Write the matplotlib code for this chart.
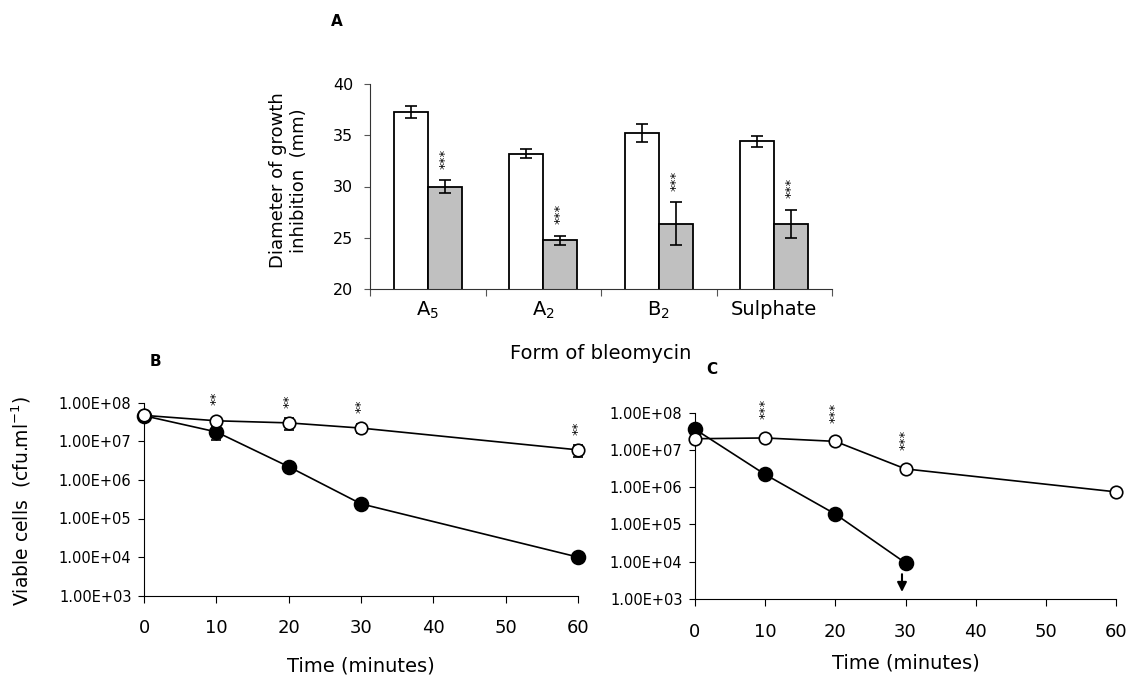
import numpy as np
import matplotlib
matplotlib.use("Agg")
import matplotlib.pyplot as plt

plt.rcParams['font.family'] = ['DejaVu Sans']

# ---- Panel A data ----
forms = ['A$_5$', 'A$_2$', 'B$_2$', 'Sulphate']
ctrl = [37.3, 33.2, 35.2, 34.4]
ctrl_err = [0.6, 0.45, 0.9, 0.5]
treat = [30.0, 24.75, 26.35, 26.35]
treat_err = [0.6, 0.45, 2.1, 1.4]
treat_sig = ['***', '***', '***', '***']

# ---- Panel B data ----
tB = [0, 10, 20, 30, 60]
B_open = [4.7e7, 3.4e7, 3.0e7, 2.2e7, 6.0e6]
B_open_err = [0.5e7, 0.3e7, 1.0e7, 0.6e7, 2.0e6]
B_fill = [4.6e7, 1.75e7, 2.2e6, 2.4e5, 1.0e4]
B_fill_err = [0.5e7, 0.7e7, 0.2e6, 0.3e5, 0.1e4]
B_sig = ['', '**', '**', '**', '**']

# ---- Panel C data ----
tC_open = [0, 10, 20, 30, 60]
C_open = [2.0e7, 2.1e7, 1.7e7, 3.1e6, 7.5e5]
C_open_err = [0.4e7, 0.1e7, 0.3e7, 0.3e6, 1.5e5]
tC_fill = [0, 10, 20, 30]
C_fill = [3.6e7, 2.2e6, 1.9e5, 9.3e3]
C_fill_err = [0.8e7, 0.3e6, 0.3e5, 1.2e3]
C_sig = ['', '***', '***', '***', '']

W, H = 1135, 677
fig = plt.figure(figsize=(W / 100, H / 100), dpi=100)


def frac(l, t, r, b):
    return [l / W, 1 - b / H, (r - l) / W, (b - t) / H]


# ================= Panel A =================
axA = fig.add_axes(frac(370, 84, 832, 289))
x = np.arange(len(forms))
bw = 0.294
axA.bar(x - bw / 2, ctrl, bw, color='white', edgecolor='black', linewidth=1.3,
        yerr=ctrl_err, error_kw=dict(ecolor='black', elinewidth=1.2, capsize=4, capthick=1.2))
axA.bar(x + bw / 2, treat, bw, color='#c0c0c0', edgecolor='black', linewidth=1.3,
        yerr=treat_err, error_kw=dict(ecolor='black', elinewidth=1.2, capsize=4, capthick=1.2))
for xi, v, e, s in zip(x, treat, treat_err, treat_sig):
    axA.text(xi + bw / 2, v + e + 1.1, s, rotation=90, ha='center', va='bottom', fontsize=9.5)
axA.set_ylim(20, 40)
axA.set_xlim(-0.5, len(forms) - 0.5)
axA.set_yticks([20, 25, 30, 35, 40])
axA.set_xticks(np.arange(len(forms) + 1) - 0.5)
axA.set_xticklabels([])
axA.set_xticks(x, minor=True)
axA.set_xticklabels(forms, minor=True, fontsize=14)
axA.tick_params(axis='x', which='minor', length=0, pad=8)
axA.tick_params(axis='x', which='major', length=5, direction='out', color='#555555')
axA.tick_params(axis='y', labelsize=11.5, length=4, direction='out', pad=8, color='#555555')
for sp in ['top', 'right']:
    axA.spines[sp].set_visible(False)
for sp in ['left', 'bottom']:
    axA.spines[sp].set_color('#333333')
axA.set_ylabel('Diameter of growth\ninhibition  (mm)', fontsize=13)
axA.yaxis.set_label_coords(-0.135, 0.53)
axA.set_xlabel('Form of bleomycin', fontsize=14, labelpad=16)


def style_log(ax, pad):
    ax.set_yscale('log')
    ax.set_ylim(1e3, 1e8)
    ax.set_xlim(0, 60)
    ax.set_xticks([0, 10, 20, 30, 40, 50, 60])
    ax.set_yticks([1e3, 1e4, 1e5, 1e6, 1e7, 1e8])
    ax.set_yticklabels(['1.00E+03', '1.00E+04', '1.00E+05', '1.00E+06', '1.00E+07', '1.00E+08'])
    ax.minorticks_off()
    ax.tick_params(axis='y', labelsize=10.5, length=4, direction='out', pad=5)
    ax.tick_params(axis='x', labelsize=13, length=5, direction='out', pad=12)
    for sp in ['top', 'right']:
        ax.spines[sp].set_visible(False)
    ax.set_xlabel('Time (minutes)', fontsize=14, labelpad=pad)


def draw_series(ax, t, y, e, filled):
    ax.errorbar(t, y, yerr=e, color='black', lw=1.2, elinewidth=1.0, capsize=3.5,
                marker='o', ms=10 if filled else 9,
                mfc='black' if filled else 'white', mec='black', mew=1.2,
                clip_on=False, zorder=3)


# ================= Panel B =================
axB = fig.add_axes(frac(144, 402.7, 578, 595.7))
style_log(axB, 14)
draw_series(axB, tB, B_fill, B_fill_err, True)
draw_series(axB, tB, B_open, B_open_err, False)
for ti, v, s in zip(tB, B_open, B_sig):
    if s:
        axB.text(ti, v * 2.5, s, rotation=90, ha='center', va='bottom', fontsize=9.5)
axB.set_ylabel('Viable cells  (cfu.ml$^{-1}$)', fontsize=13.5)
axB.yaxis.set_label_coords(-0.256, 0.49)

# ================= Panel C =================
axC = fig.add_axes(frac(695, 412.7, 1116, 599))
style_log(axC, 9)
draw_series(axC, tC_fill, C_fill, C_fill_err, True)
draw_series(axC, tC_open, C_open, C_open_err, False)
for ti, v, s in zip(tC_open, C_open, C_sig):
    if s:
        axC.text(ti, v * 3.2, s, rotation=90, ha='center', va='bottom', fontsize=9.5)
axC.annotate('', xy=(29.5, 1.3e3), xytext=(29.5, 5.5e3),
             arrowprops=dict(arrowstyle='-|>', color='black', lw=1.5, mutation_scale=14),
             annotation_clip=False)

# panel letters
fig.text(337 / W, 1 - 22 / H, 'A', fontsize=11, fontweight='bold', ha='center', va='center')
fig.text(155 / W, 1 - 362 / H, 'B', fontsize=11, fontweight='bold', ha='center', va='center')
fig.text(712 / W, 1 - 370 / H, 'C', fontsize=11, fontweight='bold', ha='center', va='center')

fig.savefig('out.png', dpi=100)
